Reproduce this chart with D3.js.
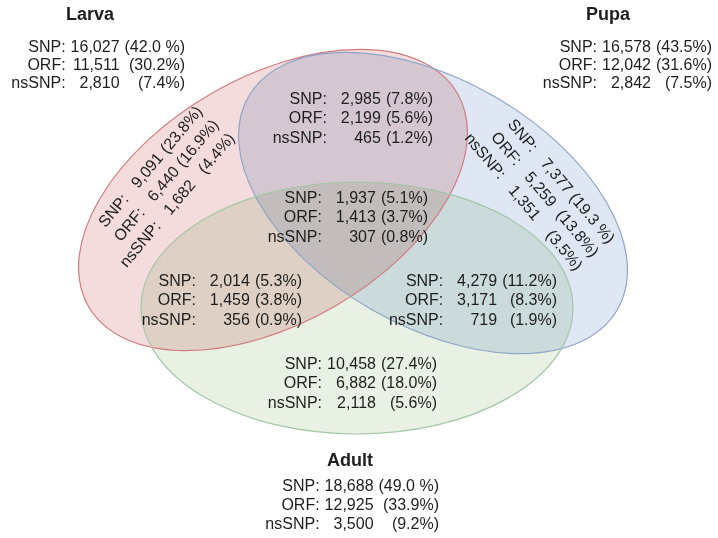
<!DOCTYPE html>
<html>
<head>
<meta charset="utf-8">
<script src="https://cdn.jsdelivr.net/npm/d3@7"></script>
<style>
body { margin: 0; background: #fff; }
text { font-family: "Liberation Sans", Arial, sans-serif; fill: #1e1e1e; }
</style>
</head>
<body>
<div id="chart"></div>
<script>
var width = 718,
    height = 538;

// data
var sets = ["Larva", "Pupa", "Adult"];
var rowLabels = ["SNP:", "ORF:", "nsSNP:"];
var regions = ["Larva", "Pupa", "Adult", "Larva only", "Pupa only", "Adult only",
               "Larva+Pupa", "Larva+Adult", "Pupa+Adult", "All"];
var snpCounts   = [16027, 16578, 18688, 9091, 7377, 10458, 2985, 2014, 4279, 1937];
var snpPct      = ["42.0 %", "43.5%", "49.0 %", "23.8%", "19.3 %", "27.4%", "7.8%", "5.3%", "11.2%", "5.1%"];
var orfCounts   = [11511, 12042, 12925, 6440, 5259, 6882, 2199, 1459, 3171, 1413];
var orfPct      = ["30.2%", "31.6%", "33.9%", "16.9%", "13.8%", "18.0%", "5.6%", "3.8%", "8.3%", "3.7%"];
var nssnpCounts = [2810, 2842, 3500, 1682, 1351, 2118, 465, 356, 719, 307];
var nssnpPct    = ["7.4%", "7.5%", "9.2%", "4.4%", "3.5%", "5.6%", "1.2%", "0.9%", "1.9%", "0.8%"];

// layout
var ellipses = {
    Larva: {cx: 273, cy: 200, rx: 213, ry: 123, rot: -30},
    Pupa:  {cx: 433, cy: 203, rx: 213, ry: 123, rot: 30},
    Adult: {cx: 357, cy: 308, rx: 216, ry: 126, rot: 0}
};
var titlePos = {Larva: [90, 14], Pupa: [608, 14], Adult: [350, 460]};
// right end x, first row centre y, rotation, line height
var tablePos = {
    "Larva":       [185, 46, 0, 18],
    "Pupa":        [712, 46, 0, 18],
    "Adult":       [439, 485, 0, 19],
    "Larva only":  [199, 108, -50, 21],
    "Pupa only":   [612, 241, 50, 21],
    "Adult only":  [437, 363, 0, 19.5],
    "Larva+Pupa":  [433, 98, 0, 19.5],
    "Larva+Adult": [302, 280, 0, 19.5],
    "Pupa+Adult":  [557, 280, 0, 19.5],
    "All":         [428, 197, 0, 19.5]
};

var fill = d3.scaleOrdinal().domain(sets).range(["#f4dcdc", "#dfe7f4", "#e8f1e4"]);
var stroke = d3.scaleOrdinal().domain(sets).range(["#d27a7e", "#8ea4c8", "#a2c8a6"]);
var fmt = d3.format(",");

var svg = d3.select("#chart").append("svg")
    .attr("width", width)
    .attr("height", height);

function ellipseTransform(s) {
    var e = ellipses[s];
    return "translate(" + e.cx + "," + e.cy + ") rotate(" + e.rot + ")";
}

svg.selectAll("ellipse.fill")
    .data(sets)
    .enter().append("ellipse")
    .attr("class", "fill")
    .attr("transform", ellipseTransform)
    .attr("rx", function(s) { return ellipses[s].rx; })
    .attr("ry", function(s) { return ellipses[s].ry; })
    .attr("fill", fill)
    .style("mix-blend-mode", "multiply");

svg.selectAll("ellipse.edge")
    .data(sets)
    .enter().append("ellipse")
    .attr("class", "edge")
    .attr("transform", ellipseTransform)
    .attr("rx", function(s) { return ellipses[s].rx; })
    .attr("ry", function(s) { return ellipses[s].ry; })
    .attr("fill", "none")
    .attr("stroke", stroke)
    .attr("stroke-width", 1.2);

svg.selectAll("text.title")
    .data(sets)
    .enter().append("text")
    .attr("class", "title")
    .attr("x", function(s) { return titlePos[s][0]; })
    .attr("y", function(s) { return titlePos[s][1]; })
    .attr("dy", "0.35em")
    .attr("text-anchor", "middle")
    .style("font-size", "18px")
    .style("font-weight", "bold")
    .text(function(s) { return s; });

// measure text widths for column layout
var probe = svg.append("text").style("font-size", "16px");
function textWidth(t) {
    probe.text(t);
    return probe.node().getComputedTextLength();
}
var gap = 5,
    numW = textWidth("00,000");

regions.forEach(function(r, i) {
    var p = tablePos[r];
    var rows = [
        [rowLabels[0], fmt(snpCounts[i]), "(" + snpPct[i] + ")"],
        [rowLabels[1], fmt(orfCounts[i]), "(" + orfPct[i] + ")"],
        [rowLabels[2], fmt(nssnpCounts[i]), "(" + nssnpPct[i] + ")"]
    ];
    var pctW = d3.max(rows, function(d) { return textWidth(d[2]); });
    var cols = [-(pctW + gap + numW + gap), -(pctW + gap), 0];

    var g = svg.append("g")
        .attr("transform", "translate(" + p[0] + "," + p[1] + ") rotate(" + p[2] + ")");

    var row = g.selectAll("g")
        .data(rows)
        .enter().append("g")
        .attr("transform", function(d, j) { return "translate(0," + (j * p[3]) + ")"; });

    row.selectAll("text")
        .data(function(d) { return d; })
        .enter().append("text")
        .attr("x", function(d, k) { return cols[k]; })
        .attr("dy", "0.35em")
        .attr("text-anchor", "end")
        .style("font-size", "16px")
        .text(function(d) { return d; });
});
probe.remove();
</script>
</body>
</html>
